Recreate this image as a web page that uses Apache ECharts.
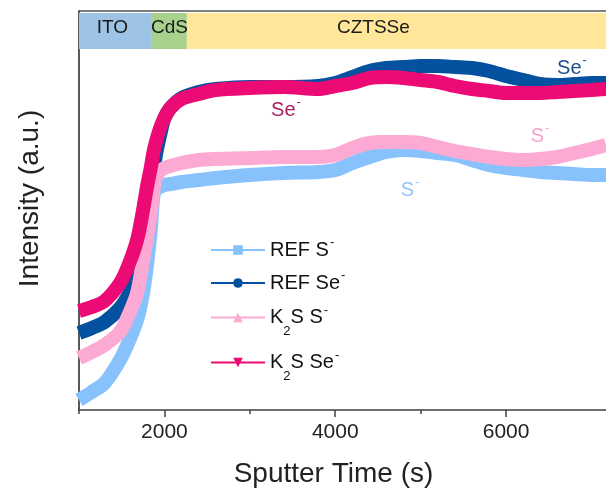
<!DOCTYPE html>
<html>
<head>
<meta charset="utf-8">
<script src="https://cdn.jsdelivr.net/npm/echarts@6.0.0/dist/echarts.min.js"></script>
<style>
html, body { margin: 0; padding: 0; background: #fff; }
#chart { width: 606px; height: 501px; }
</style>
</head>
<body>
<div id="chart"></div>
<script>
// sputter time (s)
const time = [1000, 1150, 1300, 1480, 1580, 1680, 1750, 1800, 1840, 1870, 1900, 1950, 2000, 2070, 2200,
  2400, 2600, 3000, 3400, 3800, 4000, 4200, 4400, 4600, 4800, 5000, 5200, 5400, 5600, 5800, 6000, 6200,
  6400, 6600, 6800, 7000, 7170];

// intensity, arbitrary units
const refS = [10, 18, 27, 50, 68, 90, 117, 148, 180, 213, 221, 223, 225, 226, 228,
  230, 232, 235, 237, 238, 240, 247, 253, 258, 260, 259, 257, 255, 250, 245, 242, 240,
  238, 237, 236, 235, 235];
const refSe = [77, 82, 88, 102, 115, 133, 160, 185, 210, 232, 255, 275, 292, 302, 312,
  318, 321, 323, 323, 324, 327, 333, 339, 342, 343, 344, 344, 343, 342, 339, 334, 330,
  326, 325, 326, 327, 327];
const k2sS = [52, 58, 65, 78, 95, 117, 150, 175, 197, 218, 233, 239, 242, 244, 247,
  250, 251, 252, 253, 253, 255, 262, 267, 268, 268, 267, 263, 259, 256, 253, 251, 250,
  251, 253, 257, 261, 265];
const k2sSe = [99, 103, 109, 127, 145, 170, 200, 225, 242, 257, 268, 282, 292, 302, 311,
  316, 320, 322, 323, 321, 324, 327, 332, 333, 332, 330, 328, 324, 321, 319, 317, 317,
  317, 318, 319, 320, 321];

// layer bands at the top
const layerNames = ['ITO', 'CdS', 'CZTSSe'];
const layerEdges = [1000, 1854, 2263, 7170];
const bandRange = [361, 397];

const xMajor = [2000, 4000, 6000];
const xMinor = [1000, 3000, 5000];

const FONT = "'Liberation Sans', Arial, sans-serif";
const layerColors = ['#9DC3E6', '#A9D18E', '#FFE699'];
const layerOffsets = [[-3, -3], [0, -3], [-23, -3]];

function richFor(color) {
  return {
    a: { fontSize: 20, lineHeight: 22, color: color, fill: color, fontFamily: FONT, verticalAlign: 'middle' },
    s: { fontSize: 13, lineHeight: 13, color: color, fill: color, fontFamily: FONT, verticalAlign: 'middle', padding: [0, 0, 15, 1] },
    b: { fontSize: 13, lineHeight: 13, color: color, fill: color, fontFamily: FONT, verticalAlign: 'middle', padding: [28, 0, 0, 0] }
  };
}

const names = ['REF S-', 'REF Se-', 'K2S S-', 'K2S Se-'];
const labels = {
  'REF S-': '{a|REF S}{s|-}',
  'REF Se-': '{a|REF Se}{s|-}',
  'K2S S-': '{a|K}{b|2}{a|S S}{s|-}',
  'K2S Se-': '{a|K}{b|2}{a|S Se}{s|-}'
};
const colors = ['#88C2FC', '#0451A0', '#FCA9D3', '#EC0A74'];
const symbols = ['rect', 'circle', 'triangle', 'path://M0,0 L10,0 L5,9 Z'];
const values = [refS, refSe, k2sS, k2sSe];
const legendTops = [236, 269, 297, 342];

const chart = echarts.init(document.getElementById('chart'));

const series = names.map((n, i) => ({
  name: n,
  type: 'line',
  xAxisIndex: 0,
  data: time.map((t, j) => [t, values[i][j]]),
  smooth: 0.3,
  symbol: symbols[i],
  showSymbol: false,
  lineStyle: { color: colors[i], width: 14 },
  itemStyle: { color: colors[i] },
  emphasis: { disabled: true },
  silent: true
}));

series[0].markArea = {
  silent: true,
  data: layerNames.map((ln, i) => [
    {
      name: ln,
      xAxis: layerEdges[i],
      yAxis: bandRange[0],
      itemStyle: { color: layerColors[i], opacity: 1 },
      label: { offset: layerOffsets[i] }
    },
    { xAxis: layerEdges[i + 1], yAxis: bandRange[1] }
  ]),
  label: { show: true, position: 'inside', fontSize: 19, color: '#1a1a1a', fontFamily: FONT }
};

const legends = names.map((n, i) => ({
  data: [n],
  left: 210,
  top: legendTops[i],
  padding: 0,
  itemWidth: 54,
  itemHeight: 12,
  selectedMode: false,
  lineStyle: { width: 2 },
  formatter: (name) => labels[name],
  textStyle: { rich: richFor('#111'), fontFamily: FONT }
}));

const textLabels = [
  { x: 286, y: 110, text: '{a|Se}{s|-}', color: '#A8205F' },
  { x: 572, y: 68, text: '{a|Se}{s|-}', color: '#1B4F8E' },
  { x: 540, y: 136, text: '{a|S}{s|-}', color: '#F5A3CC' },
  { x: 410, y: 190, text: '{a|S}{s|-}', color: '#8EC5F7' }
];

const option = {
  animation: false,
  grid: { left: 79, right: 0, top: 11, bottom: 91 },
  xAxis: [
    {
      type: 'value', min: 1000, max: 7170, position: 'bottom',
      axisLine: { onZero: false, lineStyle: { color: '#404040', width: 1.5 } },
      axisTick: { customValues: xMajor, length: 7, lineStyle: { color: '#404040', width: 1.5 } },
      axisLabel: {
        customValues: xMajor, fontSize: 21, color: '#222', margin: 12, fontFamily: FONT,
        formatter: (v) => String(v)
      },
      splitLine: { show: false },
      name: 'Sputter Time (s)', nameLocation: 'middle', nameGap: 50,
      nameTextStyle: { fontSize: 28, color: '#222', fontFamily: FONT, padding: [0, 18, 0, 0] }
    },
    {
      type: 'value', min: 1000, max: 7170, position: 'bottom',
      axisLine: { show: false, onZero: false },
      axisTick: { customValues: xMinor, length: 4, lineStyle: { color: '#404040', width: 1.5 } },
      axisLabel: { show: false },
      splitLine: { show: false }
    },
    {
      type: 'value', min: 1000, max: 7170, position: 'top',
      axisLine: { onZero: false, lineStyle: { color: '#555', width: 1.5 } },
      axisTick: { show: false },
      axisLabel: { show: false },
      splitLine: { show: false }
    }
  ],
  yAxis: {
    type: 'value', min: 0, max: 399,
    axisLine: { show: true, onZero: false, lineStyle: { color: '#222', width: 1.5 } },
    axisTick: { show: false },
    axisLabel: { show: false },
    splitLine: { show: false },
    name: 'Intensity (a.u.)', nameLocation: 'middle', nameGap: 35,
    nameTextStyle: { fontSize: 28, color: '#222', fontFamily: FONT, padding: [0, 0, 0, 24] }
  },
  legend: legends,
  graphic: textLabels.map((t) => ({
    type: 'text',
    x: t.x,
    y: t.y,
    silent: true,
    style: {
      text: t.text,
      fill: t.color,
      rich: richFor(t.color),
      align: 'center',
      verticalAlign: 'middle',
      textAlign: 'center',
      textVerticalAlign: 'middle'
    }
  })),
  series: series
};

chart.setOption(option);
</script>
</body>
</html>
